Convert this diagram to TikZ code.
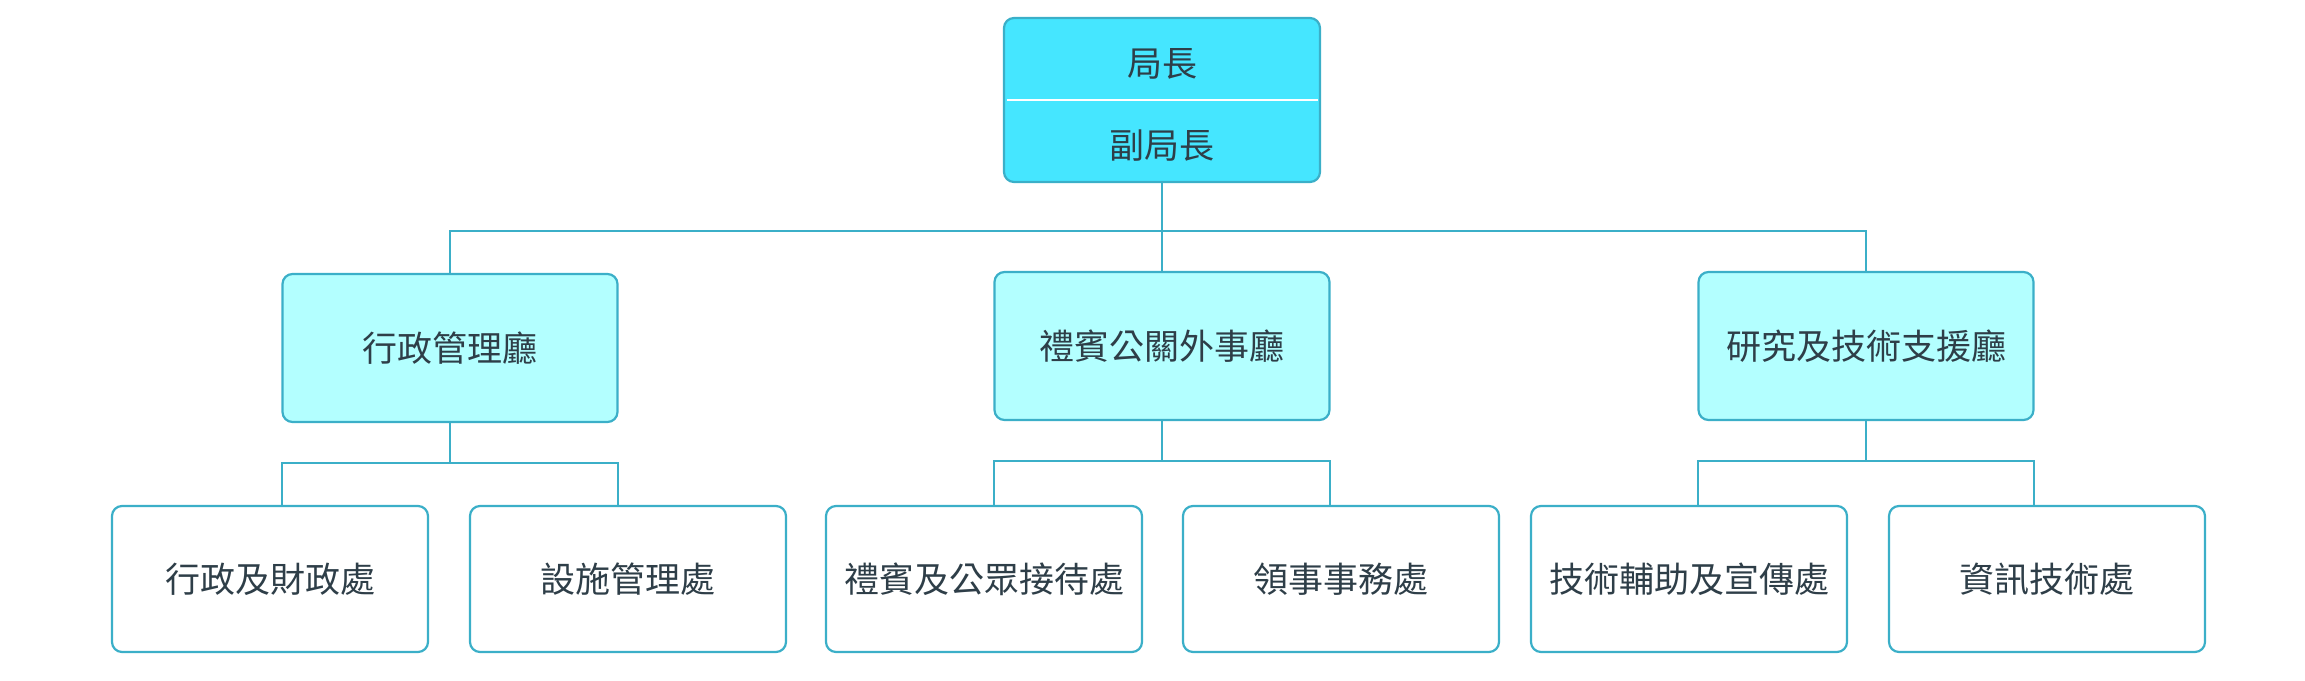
\documentclass[tikz,border=0pt]{standalone}
\usepackage{fontspec}
\setmainfont{Noto Sans CJK TC}
\begin{document}
\begin{tikzpicture}[x=1pt,y=-1pt,
  line/.style={draw=lineC,line width=2pt},
  box/.style={draw=lineC,line width=2.2pt,rounded corners=10pt,minimum width=316pt,minimum height=146pt,inner sep=0pt,font=\fontsize{35}{42}\selectfont,text=txt},
  top/.style={box,fill=topC,minimum height=164pt},
  mid/.style={box,fill=midC,minimum width=335pt,minimum height=148pt},
  leaf/.style={box,fill=white}]
\definecolor{lineC}{HTML}{3BAFC8}
\definecolor{topC}{HTML}{45E6FF}
\definecolor{midC}{HTML}{B3FFFF}
\definecolor{txt}{HTML}{2E3E48}
\useasboundingbox (0,0) rectangle (2305,680);
\node[top] (t) at (1162,100) {};
\draw[white,line width=1.5pt] (1007,100) -- (1318,100);
\node[font=\fontsize{35}{42}\selectfont,text=txt] (t1) at (1162,64) {局長};
\node[font=\fontsize{35}{42}\selectfont,text=txt] (t2) at (1162,146) {副局長};
\node[mid] (a) at (450,348) {行政管理廳};
\node[mid] (b) at (1162,346) {禮賓公關外事廳};
\node[mid] (c) at (1866,346) {研究及技術支援廳};
\node[leaf] (a1) at (270,579) {行政及財政處};
\node[leaf] (a2) at (628,579) {設施管理處};
\node[leaf] (b1) at (984,579) {禮賓及公眾接待處};
\node[leaf] (b2) at (1341,579) {領事事務處};
\node[leaf] (c1) at (1689,579) {技術輔助及宣傳處};
\node[leaf] (c2) at (2047,579) {資訊技術處};
\draw[line] (t.south) -- ++(0,48) -| (a.north);
\draw[line] (t.south) -- (b.north);
\draw[line] (t.south) -- ++(0,48) -| (c.north);
\foreach \p/\l/\r in {a/a1/a2,b/b1/b2,c/c1/c2}{
  \draw[line] (\p.south) -- ++(0,40) coordinate (m\p);
  \draw[line] ([xshift=1pt]\p.south west |- \l.north) |- (m\p) -| ([xshift=-1pt]\p.south east |- \r.north);
}
\end{tikzpicture}
\end{document}
